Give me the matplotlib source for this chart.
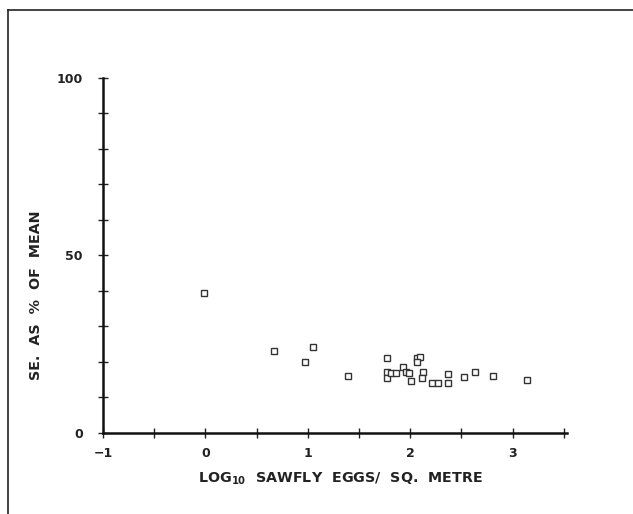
import matplotlib
matplotlib.use("Agg")
import matplotlib.pyplot as plt
from matplotlib.lines import Line2D
from matplotlib.ticker import MultipleLocator

# log10 sawfly eggs per sq. metre vs SE as % of mean
log_eggs = [-0.01, 0.67, 1.05, 0.97, 1.39, 1.77, 1.77, 1.77, 1.81, 1.86,
            1.93, 1.96, 1.99, 2.01, 2.07, 2.09, 2.07, 2.12, 2.11, 2.21,
            2.27, 2.37, 2.37, 2.52, 2.63, 2.81, 3.14]
se_pct = [39.5, 23.1, 24.3, 19.9, 16.0, 21.0, 17.2, 15.5, 16.8, 16.8,
          18.5, 17.2, 16.8, 14.7, 21.0, 21.3, 20.0, 17.2, 15.5, 14.1,
          13.9, 16.6, 14.1, 15.8, 17.2, 16.0, 14.9]

x_ticks = [-1, 0, 1, 2, 3]
y_ticks = [0, 50, 100]

plt.rcParams['font.family'] = ['DejaVu Sans']
fig = plt.figure(figsize=(6.33, 5.14), dpi=100)
fig.patch.set_facecolor('white')

# outer frame (only left and top edges visible in the scan)
fig.add_artist(Line2D([8/633, 8/633], [0, 1 - 10/514], color='#222222', lw=1.2))
fig.add_artist(Line2D([8/633, 1], [1 - 10/514, 1 - 10/514], color='#222222', lw=1.2))

ax = fig.add_axes([103/633, 81.3/514, 464/633, 354.7/514])
ax.set_facecolor('none')
ax.plot(log_eggs, se_pct, ls='none', marker='s', ms=3.8, mfc='white',
        mec='#333333', mew=1.0, clip_on=False)

ax.set_xlim(-1, 3.53)
ax.set_ylim(0, 100)
for s in ['top', 'right']:
    ax.spines[s].set_visible(False)
for s in ['left', 'bottom']:
    ax.spines[s].set_linewidth(1.8)
    ax.spines[s].set_color('#111111')

ax.set_xticks(x_ticks)
ax.set_yticks(y_ticks)
ax.xaxis.set_minor_locator(MultipleLocator(0.5))
ax.yaxis.set_minor_locator(MultipleLocator(10))
ax.tick_params(which='both', direction='inout', length=7, width=1.0, color='#222222')
ax.tick_params(axis='x', pad=7)
ax.tick_params(axis='y', pad=11)
for lab in ax.get_xticklabels() + ax.get_yticklabels():
    lab.set_fontweight('bold')
    lab.set_fontsize(9)
    lab.set_color('#222222')

ax.set_xlabel('LOG$_{\\mathbf{10}}$  SAWFLY  EGGS/  SQ.  METRE', fontsize=10.3,
              fontweight='bold', color='#222222')
ax.set_ylabel('SE.  AS  %  OF  MEAN', fontsize=10.3, fontweight='bold',
              color='#222222')
ax.xaxis.set_label_coords(0.511, -0.106)
ax.yaxis.set_label_coords(-0.129, 0.388)

fig.savefig('out.png', dpi=100)
